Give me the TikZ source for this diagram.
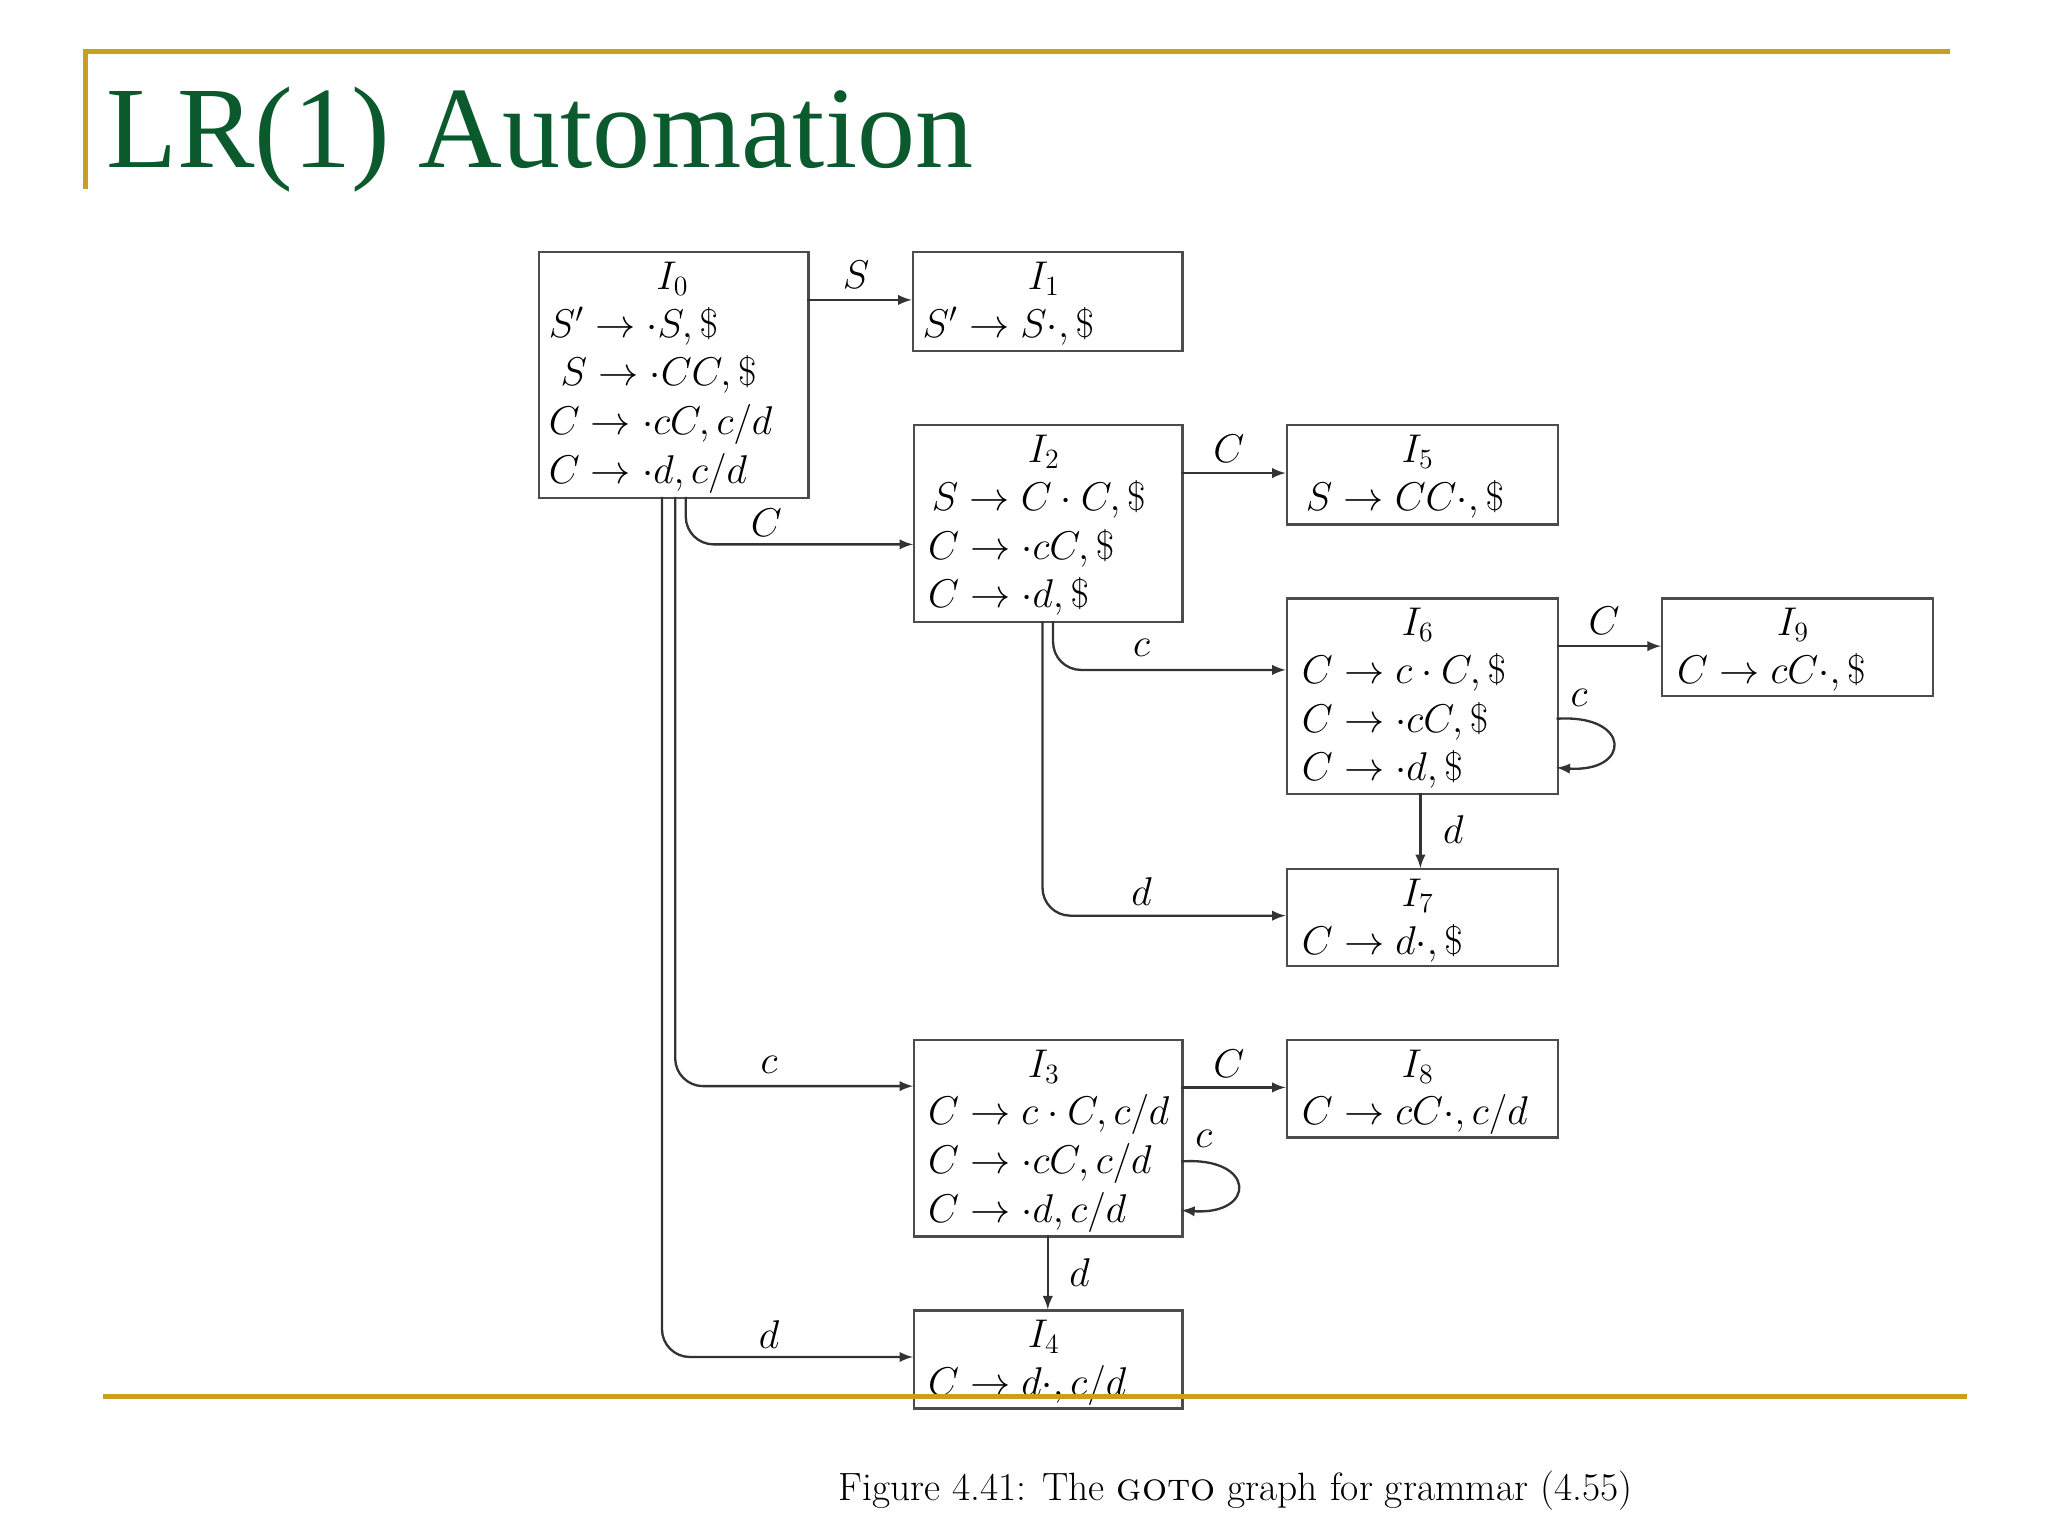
\documentclass[tikz,border=0pt]{standalone}
\usepackage{fontspec}
\newfontfamily\titlefont{Liberation Serif}
\begin{document}
\begin{tikzpicture}[x=0.02cm,y=-0.02cm,
  box/.style={draw=black!70,line width=1pt,anchor=north west,inner sep=0pt},
  hdr/.style={anchor=north,inner sep=0pt,font=\fontsize{17}{21}\selectfont},
  body/.style={anchor=north west,align=left,inner sep=0pt,font=\fontsize{17}{21}\selectfont},
  lab/.style={font=\fontsize{17}{20}\selectfont,inner sep=1pt},
  ed/.style={->,>=latex,line width=1pt,black!80,rounded corners=12pt},
  gold/.style={draw={rgb,255:red,201;green,160;blue,30},line width=2.2pt}]
\useasboundingbox (0,0) rectangle (1550,1162.5);
% decorations
\draw[gold] (65,143) -- (65,39) -- (1476,39);
\node[anchor=west,inner sep=0pt,text={rgb,255:red,10;green,90;blue,45},font=\titlefont\fontsize{50}{60}\selectfont] (title) at (80,106) {LR(1) Automation};
% boxes
\node[box,minimum width=204*0.02cm,minimum height=186*0.02cm] (I0) at (407,190) {};
\node[box,minimum width=204*0.02cm,minimum height=75*0.02cm] (I1) at (690,190) {};
\node[box,minimum width=203*0.02cm,minimum height=149*0.02cm] (I2) at (691,321) {};
\node[box,minimum width=205*0.02cm,minimum height=75*0.02cm] (I5) at (973,321) {};
\node[box,minimum width=205*0.02cm,minimum height=148*0.02cm] (I6) at (973,452) {};
\node[box,minimum width=205*0.02cm,minimum height=74*0.02cm] (I9) at (1257,452) {};
\node[box,minimum width=205*0.02cm,minimum height=73*0.02cm] (I7) at (973,657) {};
\node[box,minimum width=203*0.02cm,minimum height=149*0.02cm] (I3) at (691,786) {};
\node[box,minimum width=205*0.02cm,minimum height=74*0.02cm] (I8) at (973,786) {};
\node[box,minimum width=203*0.02cm,minimum height=74*0.02cm] (I4) at (691,991) {};
% headers
\node[hdr] (h0) at (509,198) {$I_0$};
\node[hdr] (h1) at (790,198) {$I_1$};
\node[hdr] (h2) at (790,329) {$I_2$};
\node[hdr] (h5) at (1073,329) {$I_5$};
\node[hdr] (h6) at (1073,460) {$I_6$};
\node[hdr] (h9) at (1357,460) {$I_9$};
\node[hdr] (h7) at (1073,665) {$I_7$};
\node[hdr] (h3) at (790,794) {$I_3$};
\node[hdr] (h8) at (1073,794) {$I_8$};
\node[hdr] (h4) at (790,999) {$I_4$};
% bodies
\node[body] (b0) at (415,232) {$S'\to\cdot S,\$$\\\ $S\to\cdot CC,\$$\\$C\to\cdot cC,c/d$\\$C\to\cdot d,c/d$};
\node[body] (b1) at (698,232) {$S'\to S\cdot,\$$};
\node[body] (b2) at (705,363) {$S\to C\cdot C,\$$};
\node[body] (b2b) at (702,400) {$C\to\cdot cC,\$$\\$C\to\cdot d,\$$};
\node[body] (b5) at (988,363) {$S\to CC\cdot,\$$};
\node[body] (b6) at (985,494) {$C\to c\cdot C,\$$\\$C\to\cdot cC,\$$\\$C\to\cdot d,\$$};
\node[body] (b9) at (1269,494) {$C\to cC\cdot,\$$};
\node[body] (b7) at (985,699) {$C\to d\cdot,\$$};
\node[body] (b3) at (702,828) {$C\to c\cdot C,c/d$\\$C\to\cdot cC,c/d$\\$C\to\cdot d,c/d$};
\node[body] (b8) at (985,828) {$C\to cC\cdot,c/d$};
\node[body] (b4) at (702,1033) {$C\to d\cdot,c/d$};
% edges
\draw[ed] (611,227) -- (I1.west |- 0,227);
\node[lab] (lS) at (648,208) {$S$};
\draw[ed] (519,376) -- (519,412) -- (691,412);
\node[lab] (lC0) at (580,396) {$C$};
\draw[ed] (511,376) -- (511,822) -- (691,822);
\node[lab] (lc0) at (582,806) {$c$};
\draw[ed] (501,376) -- (501,1027) -- (691,1027);
\node[lab] (ld0) at (582,1010) {$d$};
\draw[ed] (894,358) -- (973,358);
\node[lab] (lC2) at (930,340) {$C$};
\draw[ed] (797,470) -- (797,507) -- (973,507);
\node[lab] (lc2) at (864,490) {$c$};
\draw[ed] (789,470) -- (789,693) -- (973,693);
\node[lab] (ld2) at (864,675) {$d$};
\draw[ed] (1178,489) -- (1257,489);
\node[lab] (lC6) at (1214,470) {$C$};
\draw[ed,rounded corners=0pt] (1178,544) .. controls (1235,540) and (1235,585) .. (1178,581);
\node[lab] (lc6) at (1195,528) {$c$};
\draw[ed] (1075,600) -- (1075,657);
\node[lab] (ld6) at (1100,628) {$d$};
\draw[ed] (894,823) -- (973,823);
\node[lab] (lC3) at (930,805) {$C$};
\draw[ed,rounded corners=0pt] (894,879) .. controls (951,875) and (951,920) .. (894,916);
\node[lab] (lc3) at (911,862) {$c$};
\draw[ed] (793,935) -- (793,991);
\node[lab] (ld3) at (817,963) {$d$};
% bottom
\draw[gold] (78,1057) -- (1489,1057);
\node[font=\fontsize{17}{20}\selectfont,inner sep=0pt] (cap) at (935,1128) {Figure 4.41: The \textsc{goto} graph for grammar (4.55)};
\end{tikzpicture}
\end{document}
